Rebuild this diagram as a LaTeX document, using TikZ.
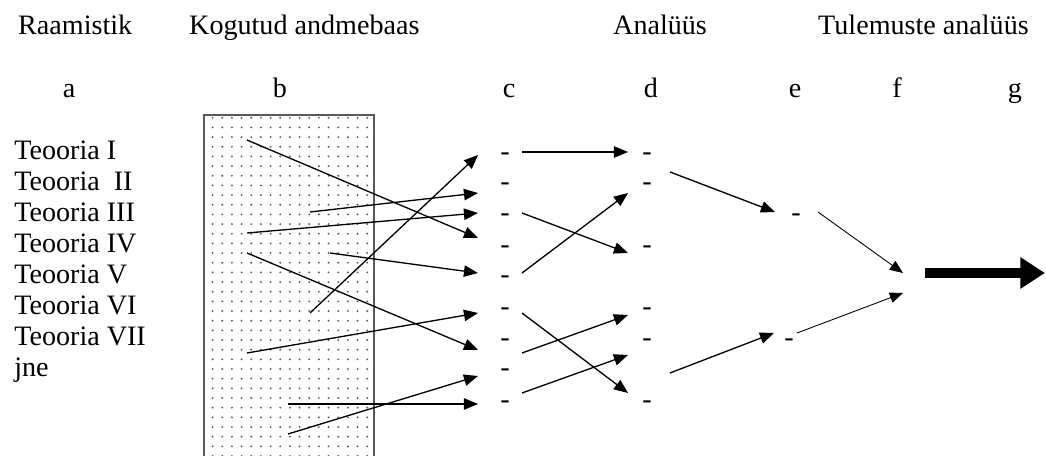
\documentclass[tikz,border=0pt]{standalone}
\usepackage{fontspec}
\setmainfont{Liberation Serif}
\usetikzlibrary{arrows.meta,patterns.meta}
\tikzset{
  kriips/.style={anchor=base,inner sep=0pt},
  nool/.style={line width=0.75pt,-{Triangle[length=8pt,width=6.5pt]}},
  peennool/.style={line width=0.5pt,-{Triangle[length=7.5pt,width=6pt]}},
  suurnool/.style={line width=5.7pt,-{Triangle[length=14pt,width=17pt]}}
}
\begin{document}
\begin{tikzpicture}[x=0.02cm,y=-0.02cm,font=\fontsize{16}{19}\selectfont]
	\clip (0,0) rectangle (1046,456);
	% pealkirjad
	\node[anchor=base west] (raam) at (12,35) {Raamistik};
	\node[anchor=base west] (kogu) at (183,35) {Kogutud andmebaas};
	\node[anchor=base west] (anal) at (607,35) {Analüüs};
	\node[anchor=base west] (tule) at (812,35) {Tulemuste analüüs};
	\foreach \l/\x in {a/69,b/280,c/509,d/651,e/795,f/897,g/1015}
		\node[anchor=base] (t\l) at (\x,98) {\l};
	% teooriad
	\foreach \t [count=\i from 0] in {Teooria I,Teooria\ \ II,Teooria III,Teooria IV,Teooria V,Teooria VI,Teooria VII,jne}
		\node[anchor=base west,inner sep=0pt] (teo\i) at (14,{160+30.86*\i}) {\t};
	% andmebaas
	\draw[draw=black!65,line width=0.9pt,pattern={Dots[distance=5.5pt,radius=0.6pt]},pattern color=black!65] (204,115) rectangle (374,470);
	% kriipsud
	\foreach \y [count=\i] in {153,183,214,246,276,308,338,369,400}
		\node[kriips] (c\i) at (505,\y+8) {-};
	\foreach \y [count=\i] in {153,183,246,308,338,400}
		\node[kriips] (d\i) at (647,\y+8) {-};
	\node[kriips] (e1) at (796,222) {-};
	\node[kriips] (e2) at (789,346) {-};
	% nooled
	\foreach \xa/\ya/\xb/\yb in {310/313/478/155,310/212/478/193,247/233/478/213,247/140/478/238,330/253/478/273,247/353/478/313,247/253/478/350,288/434/478/376,288/404/478/404}
		\draw[nool] (\xa,\ya)--(\xb,\yb);
	\foreach \xa/\ya/\xb/\yb in {522/152/628/152,522/213/628/253,522/273/628/193,522/313/628/393,522/353/628/315,522/393/628/355}
		\draw[nool] (\xa,\ya)--(\xb,\yb);
	\draw[nool] (670,172)--(775,212);
	\draw[nool] (670,373)--(774,333);
	\draw[peennool] (818,212)--(903,273);
	\draw[peennool] (797,333)--(903,293);
	\draw[suurnool] (925,273)--(1045,273);
\end{tikzpicture}
\end{document}
